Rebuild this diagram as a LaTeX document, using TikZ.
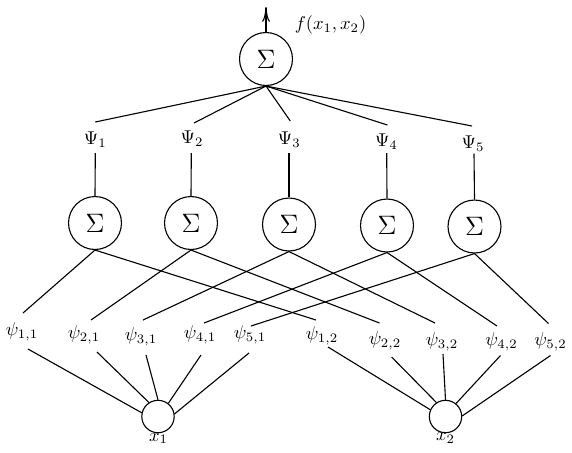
\documentclass[tikz,border=0pt]{standalone}
\usetikzlibrary{arrows.meta}
\begin{document}
\begin{tikzpicture}[x=0.54pt,y=-0.54pt,
  sumnode/.style={circle,draw,line width=0.6pt,minimum size=28.6pt,inner sep=0pt,font=\Large},
  innode/.style={circle,draw,line width=0.6pt,minimum size=17.5pt,inner sep=0pt},
  lab/.style={inner sep=0pt},
  conn/.style={line width=0.6pt}]
\useasboundingbox (0,0) rectangle (572,452);
% top sum
\node[sumnode] (S0) at (266,59) {$\Sigma$};
\node[lab] (f) at (330.5,25) {$f(x_1,x_2)$};
\coordinate (out) at (266,7);
\draw[conn,-{To[length=8pt,width=4.2pt]}] (S0.north) -- (out);
% Psi labels
\node[lab] (P1) at (95.3,140) {$\Psi_1$};
\node[lab] (P2) at (192,139) {$\Psi_2$};
\node[lab] (P3) at (289.3,140) {$\Psi_3$};
\node[lab] (P4) at (386.4,141.5) {$\Psi_4$};
\node[lab] (P5) at (473,143.5) {$\Psi_5$};
\draw[conn] (S0.south) -- ([shift={(0,-18)}]P1.center);
\draw[conn] (S0.south) -- ([shift={(2,-16)}]P2.center);
\draw[conn] (S0.south) -- ([shift={(1,-19)}]P3.center);
\draw[conn] (S0.south) -- ([shift={(1,-16.5)}]P4.center);
\draw[conn] (S0.south) -- ([shift={(-1,-17.5)}]P5.center);
% middle sums
\node[sumnode] (S1) at (95,223) {$\Sigma$};
\node[sumnode] (S2) at (191,223) {$\Sigma$};
\node[sumnode] (S3) at (289,224.5) {$\Sigma$};
\node[sumnode] (S4) at (387,225.5) {$\Sigma$};
\node[sumnode] (S5) at (474.5,226.5) {$\Sigma$};
\draw[conn] ([shift={(0,13)}]P1.center) -- (S1.north);
\draw[conn] ([shift={(-0.7,14)}]P2.center) -- (S2.north);
\draw[conn] ([shift={(-0.3,13)}]P3.center) -- (S3.north);
\draw[conn] ([shift={(0.3,11.5)}]P4.center) -- (S4.north);
\draw[conn] ([shift={(1,10)}]P5.center) -- (S5.north);
% psi labels
\node[lab] (q11) at (22,332) {$\psi_{1,1}$};
\node[lab] (q21) at (84,335) {$\psi_{2,1}$};
\node[lab] (q31) at (141,337) {$\psi_{3,1}$};
\node[lab] (q41) at (200,335) {$\psi_{4,1}$};
\node[lab] (q51) at (250,335) {$\psi_{5,1}$};
\node[lab] (q12) at (322,336) {$\psi_{1,2}$};
\node[lab] (q22) at (385,341) {$\psi_{2,2}$};
\node[lab] (q32) at (442,341.5) {$\psi_{3,2}$};
\node[lab] (q42) at (501.5,341.5) {$\psi_{4,2}$};
\node[lab] (q52) at (550.5,341.5) {$\psi_{5,2}$};
% sums to psi
\draw[conn] (S1.south) -- ([shift={(1,-19)}]q11.center);
\draw[conn] (S1.south) -- ([shift={(-6,-16)}]q12.center);
\draw[conn] (S2.south) -- ([shift={(7,-15)}]q21.center);
\draw[conn] (S2.south) -- ([shift={(-5.5,-18)}]q22.center);
\draw[conn] (S3.south) -- ([shift={(2,-17)}]q31.center);
\draw[conn] (S3.south) -- ([shift={(-7,-18.5)}]q32.center);
\draw[conn] (S4.south) -- ([shift={(4,-12)}]q41.center);
\draw[conn] (S4.south) -- ([shift={(-4.5,-15.5)}]q42.center);
\draw[conn] (S5.south) -- ([shift={(1,-9)}]q51.center);
\draw[conn] (S5.south) -- ([shift={(-2,-18)}]q52.center);
% inputs
\node[innode] (x1) at (158,416.5) {};
\node[innode] (x2) at (445.5,416.5) {};
\node[lab] (x1l) at (158.5,438.5) {$x_1$};
\node[lab] (x2l) at (445.5,438) {$x_2$};
\draw[conn] ([shift={(6,17)}]q11.center) -- (x1.167);
\draw[conn] ([shift={(13,17)}]q21.center) -- (x1.123);
\draw[conn] ([shift={(5,18)}]q31.center) -- (x1.90);
\draw[conn] ([shift={(1,20)}]q41.center) -- (x1.52);
\draw[conn] ([shift={(-1,18)}]q51.center) -- (x1.9);
\draw[conn] ([shift={(6,11)}]q12.center) -- (x2.156);
\draw[conn] ([shift={(6.6,16)}]q22.center) -- (x2.123);
\draw[conn] ([shift={(1,12.5)}]q32.center) -- (x2.90);
\draw[conn] ([shift={(-1,14)}]q42.center) -- (x2.51);
\draw[conn] ([shift={(0,14)}]q52.center) -- (x2.2);
\end{tikzpicture}
\end{document}
